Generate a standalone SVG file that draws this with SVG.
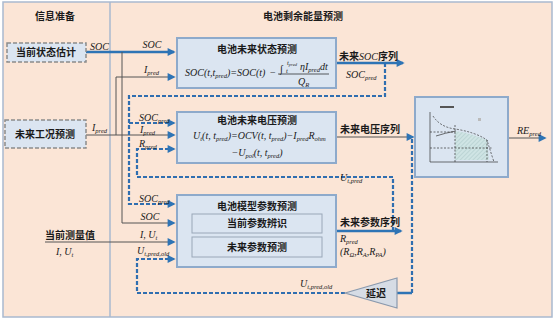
<svg xmlns="http://www.w3.org/2000/svg" width="554" height="321" viewBox="0 0 554 321">
<style>
.cn{font-family:"Noto Sans CJK SC","Noto Sans",sans-serif;font-weight:bold;font-size:10px;fill:#1a1a1a}
.m{font-family:"Liberation Serif",serif;font-style:italic;font-size:10px;fill:#1a1a1a}
.r{font-family:"Liberation Serif",serif;font-size:10px;fill:#1a1a1a}
.s{font-size:6.5px}
.box{fill:#dbe5f1;stroke:#8eaacb;stroke-width:2}
.inner{fill:#dbe5f1;stroke:#9aa7b8;stroke-width:1}
.lbox{fill:#dbe5f1;stroke:#8c8c8c;stroke-width:1.5;stroke-dasharray:4 2}
.thin{stroke:#555;stroke-width:1;fill:none}
.thick{stroke:#2e74b5;stroke-width:2.5;fill:none}
.dash{stroke:#2f6eb0;stroke-width:2.2;stroke-dasharray:4 2;fill:none}
.ch{stroke:#333;stroke-width:0.7;fill:none}
.chd{stroke:#333;stroke-width:0.7;fill:none;stroke-dasharray:2 1.5}
</style>
<defs>
<marker id="ah" viewBox="0 0 10 10" refX="8" refY="5" markerWidth="10" markerHeight="8" markerUnits="userSpaceOnUse" orient="auto"><path d="M0,0 L10,5 L0,10 z" fill="#2e74b5"/></marker>
<pattern id="hatch" width="3" height="3" patternUnits="userSpaceOnUse" patternTransform="rotate(45)"><rect width="3" height="3" fill="#cfe4e4"/><line x1="0" y1="0" x2="0" y2="3" stroke="#8fb0b0" stroke-width="0.6"/></pattern>
</defs>
<rect x="0" y="0" width="554" height="321" fill="#ffffff"/>
<rect x="3" y="2" width="549" height="315" fill="#fbe5d6" stroke="#a9b9cf" stroke-width="1.5"/>
<line x1="110" y1="2" x2="110" y2="317" stroke="#a9b9cf" stroke-width="1.5"/>
<text class="cn" x="55" y="20" text-anchor="middle">信息准备</text>
<text class="cn" x="303" y="20" text-anchor="middle">电池剩余能量预测</text>

<g id="connectors">
<path class="thick" d="M86,52 H174" marker-end="url(#ah)"/>
<path class="thin" d="M122,52 V223 H174" marker-end="url(#ah)"/>
<path class="thin" d="M86,135 H174" marker-end="url(#ah)"/>
<path class="thin" d="M116,135 V77 H174" marker-end="url(#ah)"/>
<path class="thick" d="M336,63 H403" marker-end="url(#ah)"/>
<path class="dash" d="M385,63 V96 H129 V204 H174" marker-end="url(#ah)"/>
<path class="dash" d="M129,123 H174" marker-end="url(#ah)"/>
<path class="thin" d="M336,137 H413" marker-end="url(#ah)"/>
<path class="dash" d="M393,231 V177 H137 V149 H174" marker-end="url(#ah)"/>
<path class="thick" d="M336,231 H401" marker-end="url(#ah)"/>
<path class="dash" d="M412,139 V293"/>
<path class="thick" d="M412,293 H397"/>
<path class="dash" d="M345,293 H137 V259 H174" marker-end="url(#ah)"/>
<path class="thin" d="M45,242 H174" marker-end="url(#ah)"/>
<path class="thin" d="M508,138 H545" marker-end="url(#ah)"/>
</g>

<g id="labels">
<text class="m" x="90" y="50">SOC</text>
<text class="m" x="152" y="48" text-anchor="middle">SOC</text>
<text class="m" x="144" y="73">I<tspan class="s" dy="2">pred</tspan></text>
<text class="m" x="92" y="131">I<tspan class="s" dy="2">pred</tspan></text>
<text class="m" x="139" y="121">SOC<tspan class="s" dy="2">pred</tspan></text>
<text class="m" x="140" y="133">I<tspan class="s" dy="2">pred</tspan></text>
<text class="m" x="139" y="147">R<tspan class="s" dy="2">pred</tspan></text>
<text class="m" x="139" y="202">SOC<tspan class="s" dy="2">pred</tspan></text>
<text class="m" x="150" y="220" text-anchor="middle">SOC</text>
<text class="m" x="140" y="238">I, U<tspan class="s" dy="2">t</tspan></text>
<text class="m" x="137" y="254">U<tspan class="s" dy="2">t,pred,old</tspan></text>
<text class="cn" x="70" y="239" text-anchor="middle">当前测量值</text>
<text class="m" x="56" y="255">I, U<tspan class="s" dy="2">t</tspan></text>
<text x="339" y="60"><tspan class="cn">未来</tspan><tspan class="m">SOC</tspan><tspan class="cn">序列</tspan></text>
<text class="m" x="346" y="78">SOC<tspan class="s" dy="2">pred</tspan></text>
<text class="cn" x="340" y="133">未来电压序列</text>
<text class="m" x="340" y="181">U<tspan class="s" dy="2">t,pred</tspan></text>
<text class="cn" x="340" y="226">未来参数序列</text>
<text class="m" x="340" y="242">R<tspan class="s" dy="2">pred</tspan></text>
<text class="m" x="340" y="255"><tspan class="r">(</tspan>R<tspan class="s" dy="2">Ω</tspan><tspan dy="-2">,R</tspan><tspan class="s" dy="2">A</tspan><tspan dy="-2">,R</tspan><tspan class="s" dy="2">PA</tspan><tspan class="r" dy="-2">)</tspan></text>
<text class="m" x="517" y="134">RE<tspan class="s" dy="2">pred</tspan></text>
<text class="m" x="300" y="287">U<tspan class="s" dy="2">t,pred,old</tspan></text>
</g>

<g id="node-soc-est">
<rect class="lbox" x="7" y="43" width="79" height="19"/>
<text class="cn" x="46" y="56" text-anchor="middle">当前状态估计</text>
</g>

<g id="node-load-pred">
<rect class="lbox" x="5" y="120" width="81" height="28"/>
<text class="cn" x="45" y="138" text-anchor="middle">未来工况预测</text>
</g>

<g id="node-soc-pred">
<rect class="box" x="177" y="38" width="159" height="50"/>
<text class="cn" x="257" y="53" text-anchor="middle">电池未来状态预测</text>
<text class="m" x="185" y="76">SOC(t,t<tspan class="s" dy="2">pred</tspan><tspan dy="-2">)=SOC(t)</tspan></text>
<text class="r" x="270" y="76">−</text>
<text class="r" x="280" y="72" font-size="13">∫</text>
<text class="m s" x="287" y="65">t<tspan font-size="4.5px" dy="1">pred</tspan></text>
<text class="m s" x="286" y="73">t</text>
<text class="m" x="300" y="70">ηI<tspan class="s" dy="2">pred</tspan><tspan dy="-2">dt</tspan></text>
<line x1="278" y1="74" x2="329" y2="74" stroke="#1a1a1a" stroke-width="0.7"/>
<text class="m" x="298" y="85">Q<tspan class="s" dy="2">R</tspan></text>
</g>

<g id="node-volt-pred">
<rect class="box" x="177" y="112" width="159" height="51"/>
<text class="cn" x="257" y="124" text-anchor="middle">电池未来电压预测</text>
<text class="m" x="193" y="139">U<tspan class="s" dy="2">t</tspan><tspan dy="-2">(t, t</tspan><tspan class="s" dy="2">pred</tspan><tspan dy="-2">)=OCV(t, t</tspan><tspan class="s" dy="2">pred</tspan><tspan dy="-2">)−I</tspan><tspan class="s" dy="2">pred</tspan><tspan dy="-2">R</tspan><tspan class="s" dy="2">ohm</tspan></text>
<text class="m" x="257" y="156" text-anchor="middle">−U<tspan class="s" dy="2">pol</tspan><tspan dy="-2">(t, t</tspan><tspan class="s" dy="2">pred</tspan><tspan dy="-2">)</tspan></text>
</g>

<g id="node-param-pred">
<rect class="box" x="177" y="195" width="159" height="72"/>
<text class="cn" x="257" y="210" text-anchor="middle">电池模型参数预测</text>
<rect class="inner" x="192" y="214" width="130" height="19"/>
<text class="cn" x="257" y="227" text-anchor="middle">当前参数辨识</text>
<rect class="inner" x="192" y="237" width="130" height="20"/>
<text class="cn" x="257" y="251" text-anchor="middle">未来参数预测</text>
</g>

<g id="node-re">
<rect class="box" x="415" y="97" width="93" height="80"/>
<path d="M455,131 Q470,133 487,140 L489,160 H455 Z" fill="url(#hatch)"/>
<path class="ch" d="M430,112 V162 H498"/>
<path class="chd" d="M433,116 Q440,127 455,129 Q475,132 487,140 Q490,150 494,162"/>
<path class="chd" d="M430,132 H455 M430,148 H493 M455,125 V162 M487,140 V162"/>
<path class="ch" d="M436,136 Q445,133 456,131"/>
<rect x="440" y="106" width="14" height="2" fill="#555"/>
<rect x="478" y="118" width="3" height="3" fill="#bbb"/>
</g>

<g id="node-delay">
<path d="M345,293 L397,278 V308 Z" fill="#d6dce5" stroke="#8a99ad" stroke-width="1.2"/>
<text class="cn" x="376" y="297" text-anchor="middle">延迟</text>
</g>
</svg>
